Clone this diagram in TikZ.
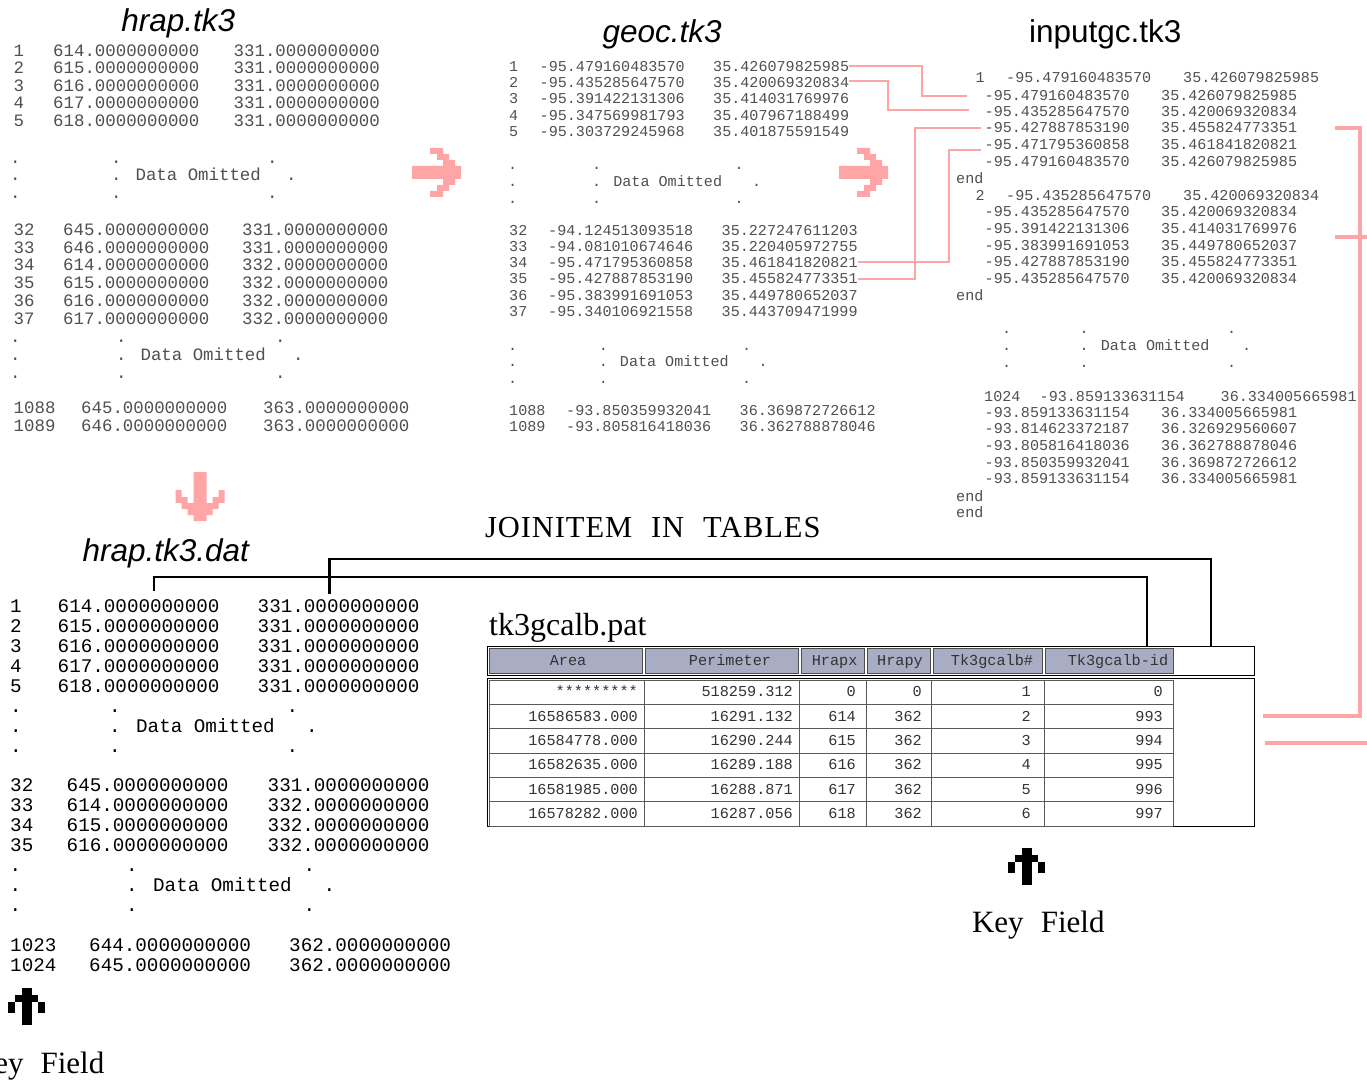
\documentclass[tikz,border=0pt]{standalone}
\usepackage{fontspec}
\setmainfont{Liberation Serif}
\newfontfamily\hvfont{Liberation Sans}
\newfontfamily\monofont{Liberation Mono}
\newcommand\monoA{\monofont\fontsize{17.4}{18}\selectfont}
\newcommand\monoB{\monofont\fontsize{15.1}{16}\selectfont}
\newcommand\monoC{\monofont\fontsize{19.25}{20}\selectfont}
\newcommand\monoT{\monofont\fontsize{15.2}{16}\selectfont}
\newcommand\titlefont{\hvfont\fontsize{31.5}{34}\selectfont}
\definecolor{pinkc}{HTML}{FFA5A5}
\definecolor{hdrc}{HTML}{A9ADC4}
\definecolor{txtc}{HTML}{505050}
\newcommand\dataomit[8]{%
 \node[#2] (#1t1) at (#5,{#3-#4}) {.};
 \node[#2] (#1t2) at (#6,{#3-#4}) {.};
 \node[#2] (#1t3) at (#7,{#3-#4}) {.};
 \node[#2] (#1m1) at (#5,#3) {.};
 \node[#2] (#1m2) at (#6,#3) {. Data Omitted};
 \node[#2] (#1m3) at (#8,#3) {.};
 \node[#2] (#1b1) at (#5,{#3+#4}) {.};
 \node[#2] (#1b2) at (#6,{#3+#4}) {.};
 \node[#2] (#1b3) at (#7,{#3+#4}) {.};}
\newcommand\pinkarrow[3]{\fill[pinkc,shift={(#1,#2)},rotate=#3]
 (0,-6.5) -- (31,-6.5) -- (31,-12.5) -- (25,-12.5) -- (25,-18.5) -- (18,-18.5) -- (18,-24.5)
 -- (31,-24.5) -- (31,-18.5) -- (37,-18.5) -- (37,-12.5) -- (43,-12.5) -- (43,-6.5) -- (49,-6.5)
 -- (49,6.5) -- (43,6.5) -- (43,12.5) -- (37,12.5) -- (37,18.5) -- (31,18.5) -- (31,24.5)
 -- (18,24.5) -- (18,18.5) -- (25,18.5) -- (25,12.5) -- (31,12.5) -- (31,6.5) -- (0,6.5) -- cycle;}
\newcommand\keyarrow[2]{\begin{scope}[shift={(#1,#2)}]
 \fill (-5,0) rectangle (5,37);
 \fill (-11.7,6.7) rectangle (11.7,13.4);
 \fill (-18.4,13.2) rectangle (-11.5,24.4);
 \fill (11.5,13.2) rectangle (18.4,24.4);
\end{scope}}
\begin{document}
\begin{tikzpicture}[x=1pt,y=-1pt,
 mA/.style={font=\monoA,anchor=west,inner sep=0pt,text height=10.4pt,text depth=0pt,text=txtc},
 mB/.style={font=\monoB,anchor=west,inner sep=0pt,text height=9.1pt,text depth=0pt,text=txtc},
 mC/.style={font=\monoC,anchor=west,inner sep=0pt,text height=11.5pt,text depth=0pt,text=black},
 mT/.style={font=\monoT,inner sep=0pt,text height=9.1pt,text depth=0pt,text=black!80},
 ttl/.style={font=\titlefont,anchor=base,inner sep=0pt},
 ttli/.style={ttl,font=\titlefont\itshape},
 serifbig/.style={inner sep=0pt,font=\fontsize{30.5}{32}\selectfont},
 pline/.style={pinkc,line width=2pt},
 bline/.style={pinkc,line width=4.5pt},
 jline/.style={black,line width=2.4pt},
 hcell/.style={draw=black!70,fill=hdrc,inner sep=0pt,minimum height=25pt},
 grid/.style={black!65,line width=0.8pt}]
\useasboundingbox (0,0) rectangle (1367,1086);
\clip (0,0) rectangle (1367,1086);
\fill[white] (0,0) rectangle (1367,1086);

% ---------------- hrap.tk3 ----------------
\node[ttli] (thrap) at (178.3,31.7) {hrap.tk3};
\foreach \n/\yy/\a in {1/51/614,2/68.5/615,3/86/616,4/103.5/617,5/121/618}{
 \node[mA] (h\n-n) at (13.5,\yy) {\n};
 \node[mA] (h\n-a) at (53,\yy) {\a.0000000000};
 \node[mA] (h\n-b) at (233.5,\yy) {331.0000000000};}
\dataomit{hA}{mA}{175.5}{17.5}{10}{111}{267}{286}
\foreach \n/\yy/\a/\b in {32/230/645/331,33/247.8/646/331,34/265.6/614/332,35/283.4/615/332,36/301.2/616/332,37/319/617/332}{
 \node[mA] (h\n-n) at (13.5,\yy) {\n};
 \node[mA] (h\n-a) at (63,\yy) {\a.0000000000};
 \node[mA] (h\n-b) at (242,\yy) {\b.0000000000};}
\dataomit{hB}{mA}{355}{17.8}{10}{116}{275}{293}
\foreach \n/\yy/\a in {1088/408/645,1089/426/646}{
 \node[mA] (h\n-n) at (13.5,\yy) {\n};
 \node[mA] (h\n-a) at (81,\yy) {\a.0000000000};
 \node[mA] (h\n-b) at (263,\yy) {363.0000000000};}

% ---------------- geoc.tk3 ----------------
\node[ttli] (tgeoc) at (662.2,42.5) {geoc.tk3};
\foreach \n/\yy/\a/\b in {1/66.5/479160483570/426079825985,2/83/435285647570/420069320834,3/99.3/391422131306/414031769976,4/115.7/347569981793/407967188499,5/131.8/303729245968/401875591549}{
 \node[mB] (g\n-n) at (509,\yy) {\n};
 \node[mB] (g\n-a) at (539.5,\yy) {-95.\a};
 \node[mB] (g\n-b) at (713,\yy) {35.\b};}
\dataomit{gA}{mB}{181.5}{17}{508}{592}{734.5}{752}
\foreach \n/\yy/\a/\b in {32/230.7/-94.124513093518/35.227247611203,33/246.9/-94.081010674646/35.220405972755,34/263.2/-95.471795360858/35.461841820821,35/279.4/-95.427887853190/35.455824773351,36/295.7/-95.383991691053/35.449780652037,37/312/-95.340106921558/35.443709471999}{
 \node[mB] (g\n-n) at (509,\yy) {\n};
 \node[mB] (g\n-a) at (548,\yy) {\a};
 \node[mB] (g\n-b) at (721.5,\yy) {\b};}
\dataomit{gB}{mB}{362.3}{16.5}{508}{598.6}{742}{758.5}
\foreach \n/\yy/\a/\b in {1088/411/-93.850359932041/36.369872726612,1089/426.7/-93.805816418036/36.362788878046}{
 \node[mB] (g\n-n) at (509,\yy) {\n};
 \node[mB] (g\n-a) at (566,\yy) {\a};
 \node[mB] (g\n-b) at (739.5,\yy) {\b};}

% ---------------- inputgc.tk3 ----------------
\node[ttl] (tinput) at (1105.3,42.5) {inputgc.tk3};
\node[mB] (iA-n) at (975.5,78.3) {1};
\node[mB] (iA-a) at (1006,78.3) {-95.479160483570};
\node[mB] (iA-b) at (1183,78.3) {35.426079825985};
\foreach \n/\yy/\a/\b in {1/95.7/-95.479160483570/35.426079825985,2/111.7/-95.435285647570/35.420069320834,3/128.3/-95.427887853190/35.455824773351,4/145/-95.471795360858/35.461841820821,5/161.7/-95.479160483570/35.426079825985}{
 \node[mB] (i\n-a) at (984.5,\yy) {\a};
 \node[mB] (i\n-b) at (1161,\yy) {\b};}
\node[mB] (iend1) at (956,179) {end};
\node[mB] (iB-n) at (975.5,195.7) {2};
\node[mB] (iB-a) at (1006,195.7) {-95.435285647570};
\node[mB] (iB-b) at (1183,195.7) {35.420069320834};
\foreach \n/\yy/\a/\b in {6/212.3/-95.435285647570/35.420069320834,7/229/-95.391422131306/35.414031769976,8/245.7/-95.383991691053/35.449780652037,9/262.3/-95.427887853190/35.455824773351,10/279/-95.435285647570/35.420069320834}{
 \node[mB] (i\n-a) at (984.5,\yy) {\a};
 \node[mB] (i\n-b) at (1161,\yy) {\b};}
\node[mB] (iend2) at (956,295.7) {end};
\dataomit{iO}{mB}{346}{16.7}{1002}{1079.4}{1227}{1242}
\node[mB] (iC-n) at (984,396.7) {1024};
\node[mB] (iC-a) at (1039.5,396.7) {-93.859133631154};
\node[mB] (iC-b) at (1220.5,396.7) {36.334005665981};
\foreach \n/\yy/\a/\b in {11/412.7/-93.859133631154/36.334005665981,12/429.3/-93.814623372187/36.326929560607,13/446/-93.805816418036/36.362788878046,14/462.7/-93.850359932041/36.369872726612,15/479.3/-93.859133631154/36.334005665981}{
 \node[mB] (i\n-a) at (984.5,\yy) {\a};
 \node[mB] (i\n-b) at (1161,\yy) {\b};}
\node[mB] (iend3) at (956,496.7) {end};
\node[mB] (iend4) at (956,513.3) {end};

% ---------------- pink arrows ----------------
\pinkarrow{412}{172.5}{0}
\pinkarrow{839}{172.5}{0}
\pinkarrow{200}{472}{-90}

% ---------------- pink connectors ----------------
\coordinate (pv1) at (922,0);
\coordinate (pv2) at (888,0);
\coordinate (pv3) at (915,0);
\coordinate (pv4) at (949,0);
\draw[pline] (g1-b.east) -| (pv1 |- i1-a.west) -- ([xshift=-17.5pt]i1-a.west);
\draw[pline] ([yshift=2pt]g2-b.east) -| ([yshift=1.5pt]pv2 |- i2-a.west) -- ([xshift=-16pt,yshift=1.5pt]i2-a.west);
\draw[pline] ([yshift=1pt]g34-b.east) -| ([yshift=-5pt]pv4 |- i4-a.west) -- ([xshift=-4pt,yshift=-5pt]i4-a.west);
\draw[pline] (g35-b.east) -| (pv3 |- i3-a.west) -- ([xshift=-4pt]i3-a.west);

% ---------------- pink bracket ----------------
\coordinate (br1) at (1335,128);
\coordinate (br2) at (1360,128);
\coordinate (br3) at (1360,716);
\coordinate (br4) at (1263,716);
\coordinate (br5) at (1335,237);
\coordinate (br6) at (1367,237);
\coordinate (br7) at (1265,743);
\coordinate (br8) at (1367,743);
\draw[bline] (br1) -- (br2) -- (br3) -- (br4);
\draw[bline] (br5) -- (br6);
\draw[bline] (br7) -- (br8);

% ---------------- hrap.tk3.dat ----------------
\node[ttli] (tdat) at (165.8,561) {hrap.tk3.dat};
\foreach \n/\yy/\a in {1/607/614,2/627/615,3/647/616,4/667/617,5/687/618}{
 \node[mC] (d\n-n) at (10,\yy) {\n};
 \node[mC] (d\n-a) at (57.5,\yy) {\a.0000000000};
 \node[mC] (d\n-b) at (257.5,\yy) {331.0000000000};}
\dataomit{dA}{mC}{726.5}{20}{10}{109}{286.5}{306}
\foreach \n/\yy/\a/\b in {32/786/645/331,33/806/614/332,34/826/615/332,35/846/616/332}{
 \node[mC] (d\n-n) at (10,\yy) {\n};
 \node[mC] (d\n-a) at (66.5,\yy) {\a.0000000000};
 \node[mC] (d\n-b) at (267.5,\yy) {\b.0000000000};}
\dataomit{dB}{mC}{886}{20}{9.5}{126}{303.5}{323.5}
\foreach \n/\yy/\a in {1023/946/644,1024/966/645}{
 \node[mC] (d\n-n) at (10,\yy) {\n};
 \node[mC] (d\n-a) at (89,\yy) {\a.0000000000};
 \node[mC] (d\n-b) at (289,\yy) {362.0000000000};}

% ---------------- titles / labels ----------------
\node[serifbig,anchor=base west] (join) at (485,537) {\addfontfeature{LetterSpace=3}JOINITEM\hspace{0.62em}IN\hspace{0.62em}TABLES};
\node[inner sep=0pt,anchor=base west,font=\fontsize{32}{34}\selectfont] (tpat) at (489,635.5) {tk3gcalb.pat};

% ---------------- table ----------------
\node[draw=black,line width=0.8pt,minimum width=767pt,minimum height=29pt,inner sep=0pt] (hdrbox) at (870.5,660.5) {};
\node[hcell,minimum width=153pt] (hArea) at (565.5,660.5) {};
\node[hcell,minimum width=153pt] (hPer) at (721.5,660.5) {};
\node[hcell,minimum width=63pt] (hHx) at (832.5,660.5) {};
\node[hcell,minimum width=63pt] (hHy) at (898.5,660.5) {};
\node[hcell,minimum width=109pt] (hTn) at (987.5,660.5) {};
\node[hcell,minimum width=128pt] (hTid) at (1109,660.5) {};
\node[mT] (lArea) at (568,660.5) {Area};
\node[mT] (lPer) at (730,660.5) {Perimeter};
\node[mT] (lHx) at (834.6,660.5) {Hrapx};
\node[mT] (lHy) at (900,660.5) {Hrapy};
\node[mT] (lTn) at (992,660.5) {Tk3gcalb\#};
\node[mT] (lTid) at (1118,660.5) {Tk3gcalb-id};
\node[draw=black,line width=0.8pt,minimum width=767pt,minimum height=148pt,inner sep=0pt] (bodybox) at (870.5,752) {};
\foreach \yy in {680,704.3,728.7,753,777.3,801.7,826}{
 \draw[grid] (489,\yy) -- (1173,\yy);}
\foreach \xx in {489,644,799,866,931,1044,1173}{
 \draw[grid] (\xx,680) -- (\xx,826);}
\foreach \r/\yy/\ar/\pe/\hx/\hy/\tn/\ti in {1/692.2/*********/518259.312/0/0/1/0,2/716.5/16586583.000/16291.132/614/362/2/993,3/740.8/16584778.000/16290.244/615/362/3/994,4/765.2/16582635.000/16289.188/616/362/4/995,5/789.5/16581985.000/16288.871/617/362/5/996,6/813.8/16578282.000/16287.056/618/362/6/997}{
 \node[mT,anchor=east] (c\r-1) at (638,\yy) {\ar};
 \node[mT,anchor=east] (c\r-2) at (793,\yy) {\pe};
 \node[mT,anchor=east] (c\r-3) at (856,\yy) {\hx};
 \node[mT,anchor=east] (c\r-4) at (922,\yy) {\hy};
 \node[mT,anchor=east] (c\r-5) at (1031,\yy) {\tn};
 \node[mT,anchor=east] (c\r-6) at (1163,\yy) {\ti};}

% ---------------- black join connectors ----------------
\coordinate (jA0) at (154,591);
\coordinate (jA1) at (1147,577);
\coordinate (jB0) at (329.3,594);
\coordinate (jB1) at (1211,559);
\draw[jline] (jA0) |- (jA1) -- (jA1 |- hdrbox.north);
\draw[jline] (jB0) |- (jB1) -- (jB1 |- hdrbox.north);

% ---------------- key fields ----------------
\keyarrow{1026.7}{848.3}
\keyarrow{26.7}{988.3}
\node[inner sep=0pt,anchor=base,font=\fontsize{31}{33}\selectfont] (kf1) at (1038.3,932.3) {Key\hspace{0.55em}Field};
\node[inner sep=0pt,anchor=base east,font=\fontsize{31}{33}\selectfont] (kf2) at (104.5,1073) {Key\hspace{0.55em}Field};
\end{tikzpicture}
\end{document}
